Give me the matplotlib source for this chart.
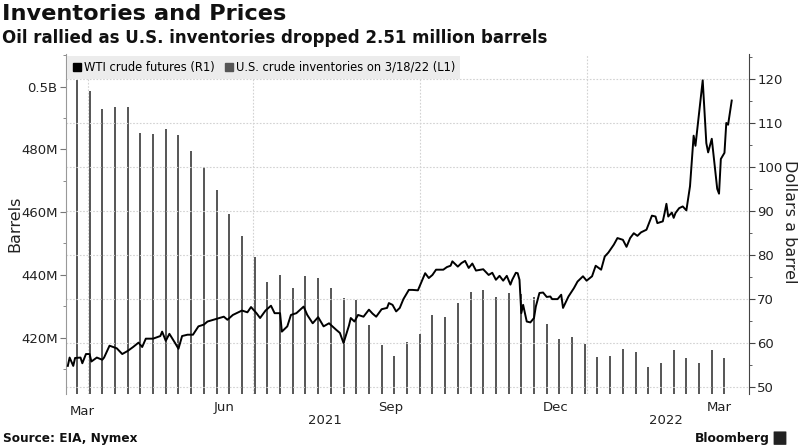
import matplotlib
matplotlib.use("Agg")
import matplotlib.pyplot as plt
from matplotlib.patches import Patch, FancyBboxPatch
from matplotlib.ticker import FixedLocator
import pandas as pd

# WTI crude futures, $/barrel (right axis)
wti_dates = [
    "2021-03-21", "2021-03-22", "2021-03-24", "2021-03-25", "2021-03-28", "2021-03-29",
    "2021-03-31", "2021-04-02", "2021-04-03", "2021-04-06", "2021-04-09", "2021-04-10",
    "2021-04-13", "2021-04-17", "2021-04-20", "2021-04-23", "2021-04-26", "2021-04-29",
    "2021-05-01", "2021-05-03", "2021-05-07", "2021-05-11", "2021-05-12", "2021-05-14",
    "2021-05-16", "2021-05-19", "2021-05-21", "2021-05-23", "2021-05-26", "2021-05-29",
    "2021-06-01", "2021-06-04", "2021-06-06", "2021-06-11", "2021-06-15", "2021-06-17",
    "2021-06-20", "2021-06-25", "2021-06-28", "2021-06-30", "2021-07-03", "2021-07-05",
    "2021-07-08", "2021-07-11", "2021-07-13", "2021-07-16", "2021-07-17", "2021-07-20",
    "2021-07-22", "2021-07-25", "2021-07-29", "2021-07-31", "2021-08-03", "2021-08-06",
    "2021-08-09", "2021-08-12", "2021-08-16", "2021-08-18", "2021-08-20", "2021-08-23",
    "2021-08-24", "2021-08-26", "2021-08-28", "2021-08-31", "2021-09-03", "2021-09-05",
    "2021-09-07", "2021-09-10", "2021-09-13", "2021-09-14", "2021-09-16", "2021-09-18",
    "2021-09-20", "2021-09-22", "2021-09-25", "2021-09-27", "2021-09-30", "2021-10-04",
    "2021-10-06", "2021-10-08", "2021-10-10", "2021-10-14", "2021-10-16", "2021-10-18",
    "2021-10-19", "2021-10-22", "2021-10-24", "2021-10-26", "2021-10-28", "2021-10-30",
    "2021-11-01", "2021-11-05", "2021-11-08", "2021-11-10", "2021-11-12", "2021-11-14",
    "2021-11-16", "2021-11-18", "2021-11-20", "2021-11-21", "2021-11-23", "2021-11-24",
    "2021-11-25", "2021-11-26", "2021-11-27", "2021-11-29", "2021-12-01", "2021-12-03",
    "2021-12-04", "2021-12-06", "2021-12-08", "2021-12-10", "2021-12-12", "2021-12-13",
    "2021-12-16", "2021-12-18", "2021-12-19", "2021-12-22", "2021-12-25", "2021-12-27",
    "2021-12-30", "2022-01-01", "2022-01-04", "2022-01-06", "2022-01-09", "2022-01-11",
    "2022-01-13", "2022-01-16", "2022-01-18", "2022-01-21", "2022-01-23", "2022-01-25",
    "2022-01-27", "2022-01-29", "2022-01-31", "2022-02-03", "2022-02-06", "2022-02-08",
    "2022-02-09", "2022-02-12", "2022-02-13", "2022-02-14", "2022-02-15", "2022-02-17",
    "2022-02-18", "2022-02-19", "2022-02-21", "2022-02-23", "2022-02-25", "2022-02-27",
    "2022-03-01", "2022-03-02", "2022-03-04", "2022-03-06", "2022-03-08", "2022-03-09",
    "2022-03-11", "2022-03-14", "2022-03-15", "2022-03-16", "2022-03-18", "2022-03-19",
    "2022-03-20", "2022-03-22",
]
wti_prices = [
    54.7, 56.6, 54.7, 56.5, 56.6, 55.3,
    57.4, 57.4, 55.7, 56.6, 56.1, 56.6,
    59.3, 58.7, 57.4, 58.1, 59.0, 60.0,
    59.0, 60.9, 60.9, 61.5, 62.5, 60.4,
    62.0, 60.0, 58.6, 61.5, 61.8, 61.8,
    63.7, 64.1, 64.8, 65.4, 65.9, 65.2,
    66.3, 67.3, 66.9, 68.1, 66.7, 65.6,
    67.3, 68.4, 66.7, 66.7, 62.5, 63.7,
    66.3, 66.7, 68.2, 66.3, 64.4, 65.8,
    63.7, 64.4, 62.9, 62.2, 59.9, 63.9,
    65.6, 64.8, 66.3, 65.9, 67.5, 66.6,
    65.9, 67.6, 67.9, 69.0, 68.6, 67.1,
    67.9, 69.9, 72.0, 72.0, 71.9, 75.8,
    74.7, 75.4, 76.6, 76.6, 77.2, 77.5,
    78.5, 77.3, 78.1, 78.6, 77.0, 78.0,
    76.4, 76.7, 75.4, 75.9, 74.3, 75.2,
    74.1, 75.2, 73.2, 74.3, 75.9, 75.8,
    74.3, 66.7, 68.6, 64.8, 64.6, 65.6,
    68.2, 71.3, 71.4, 70.4, 70.5, 69.9,
    69.9, 70.9, 67.9, 70.5, 72.4, 73.9,
    75.1, 74.1, 75.1, 77.5, 76.6, 79.6,
    80.5, 82.3, 83.8, 83.4, 81.8, 83.8,
    84.9, 84.3, 85.1, 85.7, 88.9, 88.7,
    87.2, 87.6, 89.5, 91.6, 88.7, 89.6,
    88.4, 89.5, 90.6, 91.0, 90.1, 95.6,
    107.1, 104.8, 112.3, 119.7, 105.4, 103.3,
    106.4, 95.0, 93.9, 101.8, 103.2, 110.0,
    109.6, 115.1,
]

# U.S. crude inventories, millions of barrels, weekly (left axis)
inv_dates = pd.date_range("2021-03-26", "2022-03-18", freq="7D")
inv_millions = [
    502.1, 498.5, 492.8, 493.4, 493.4, 485.3, 484.9, 486.5, 484.7, 479.6,
    474.3, 467.0, 459.3, 452.5, 445.6, 437.8, 439.9, 435.9, 439.5, 438.9,
    435.7, 432.7, 432.0, 424.0, 417.6, 414.2, 418.7, 421.1, 427.2, 426.6,
    430.9, 434.4, 435.2, 433.0, 434.1, 434.0, 433.0, 424.2, 419.4, 420.3,
    418.1, 413.7, 414.1, 416.3, 415.3, 410.7, 411.8, 416.0, 413.6, 412.0,
    416.0, 413.6,
]

left_ticks = [420, 440, 460, 480, 500]
left_labels = ["420M", "440M", "460M", "480M", "0.5B"]
month_ticks = ["2021-06-15", "2021-09-15", "2021-12-15", "2022-03-15"]
month_labels = ["Jun", "Sep", "Dec", "Mar"]
quarter_lines = ["2021-04-01", "2021-07-01", "2021-10-01", "2022-01-01"]

fig = plt.figure(figsize=(8, 4.48), dpi=100)
ax = fig.add_axes([0.0825, 0.1205, 0.8537, 0.759])
ax2 = ax.twinx()

ax.vlines(inv_dates, 0, inv_millions, colors="#555555", lw=1.4, zorder=2)
ax2.plot(pd.to_datetime(wti_dates), wti_prices, color="black", lw=1.4, zorder=3)

ax.set_xlim(pd.Timestamp("2021-03-20"), pd.Timestamp("2022-03-31 12:00"))
ax.set_ylim(402.0, 510.4)
ax2.set_ylim(48.3, 125.7)

grid_style = dict(color="#d2d2d2", lw=0.8, ls=(0, (1.5, 1.5)), zorder=1)
for d in quarter_lines:
    ax.axvline(pd.Timestamp(d), **grid_style)
for v in range(50, 121, 10):
    ax2.axhline(v, **grid_style)

# left axis
ax.yaxis.set_major_locator(FixedLocator(left_ticks))
ax.set_yticklabels(left_labels)
ax.yaxis.set_minor_locator(FixedLocator([410, 430, 450, 470, 490, 510]))
ax.tick_params(axis="y", which="major", length=4, color="#777777", labelsize=9.5,
               labelcolor="#222222", pad=2)
ax.tick_params(axis="y", which="minor", length=2.5, color="#777777")

# right axis
ax2.yaxis.set_major_locator(FixedLocator(list(range(50, 121, 10))))
ax2.yaxis.set_minor_locator(FixedLocator(list(range(55, 126, 10))))
ax2.tick_params(axis="y", which="major", length=4, color="#444444", labelsize=9.5,
                labelcolor="#222222", pad=2)
ax2.tick_params(axis="y", which="minor", length=2.5, color="#444444")

# x axis
ax.set_xticks(pd.to_datetime(month_ticks))
ax.set_xticklabels(month_labels)
ax.tick_params(axis="x", length=0, labelsize=9.5, labelcolor="#222222", pad=5)
trans = ax.get_xaxis_transform()
ax.text(pd.Timestamp("2021-03-29"), -0.033, "Mar", transform=trans, ha="center",
        va="top", fontsize=9.5, color="#222222")
ax.text(pd.Timestamp("2021-08-10"), -0.079, "2021", transform=trans, ha="center",
        va="center", fontsize=9.5, color="#222222")
ax.text(pd.Timestamp("2022-02-14"), -0.079, "2022", transform=trans, ha="center",
        va="center", fontsize=9.5, color="#222222")

for a in (ax, ax2):
    for side in ("top", "bottom", "left", "right"):
        a.spines[side].set_visible(False)
ax2.spines["left"].set_visible(True)
ax2.spines["left"].set_color("#999999")
ax2.spines["right"].set_visible(True)
ax2.spines["right"].set_color("#444444")

handles = [Patch(color="black", label="WTI crude futures (R1)"),
           Patch(color="#555555", label="U.S. crude inventories on 3/18/22 (L1)")]
ax2.legend(handles=handles, loc="upper left", bbox_to_anchor=(0.002, 0.995),
           ncol=2, frameon=True, facecolor="#ececec", edgecolor="none",
           fancybox=False, framealpha=1, fontsize=8.3, handlelength=0.7,
           handleheight=0.7, handletextpad=0.25, columnspacing=0.9,
           borderpad=0.45, borderaxespad=0)

fig.text(0.003, 0.968, "Inventories and Prices", fontsize=16.2,
         fontweight="bold", va="center", ha="left", color="#111111")
fig.text(0.003, 0.915, "Oil rallied as U.S. inventories dropped 2.51 million barrels",
         fontsize=12.0, fontweight="bold", va="center", ha="left", color="#111111")
fig.text(0.019, 0.50, "Barrels", rotation=90, fontsize=11.5, va="center", ha="center",
         color="#222222")
fig.text(0.987, 0.505, "Dollars a barrel", rotation=270, fontsize=11.5, va="center",
         ha="center", color="#222222")
fig.text(0.004, 0.022, "Source: EIA, Nymex", fontsize=8.7, fontweight="bold",
         va="center", ha="left", color="#111111")
fig.text(0.962, 0.022, "Bloomberg", fontsize=8.8, fontweight="bold", va="center",
         ha="right", color="#111111")
fig.patches.append(FancyBboxPatch((0.968, 0.008), 0.014, 0.028, transform=fig.transFigure,
                                  boxstyle="round,pad=0.001", facecolor="#222222",
                                  edgecolor="none"))

fig.savefig("out.png", dpi=100)
